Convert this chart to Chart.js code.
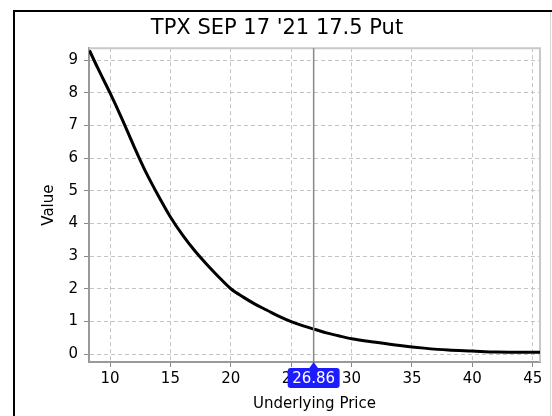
<!DOCTYPE html>
<html>
<head>
<meta charset="utf-8">
<script src="https://cdn.jsdelivr.net/npm/chart.js@4.4.0/dist/chart.umd.min.js"></script>
<style>
  html, body { margin: 0; padding: 0; background: #fff; }
  #wrap { width: 552px; height: 416px; position: relative; }
</style>
</head>
<body>
<div id="wrap"><canvas id="chart" width="552" height="416"></canvas></div>
<script>
// Put value curve
const underlyingPrices = [8.3, 9, 10, 11, 12, 13, 14, 15, 16, 17, 18, 19, 20, 21, 22, 23, 24, 25, 26, 27, 28, 29, 30, 32, 34, 36, 38, 40, 42, 44, 45.6];
const putValues = [9.3, 8.75, 8.0, 7.2, 6.35, 5.55, 4.85, 4.2, 3.65, 3.17, 2.75, 2.36, 2.0, 1.75, 1.53, 1.34, 1.15, 0.99, 0.86, 0.75, 0.64, 0.55, 0.47, 0.36, 0.26, 0.18, 0.12, 0.09, 0.06, 0.05, 0.05];

const chartTitle = "TPX SEP 17 '21 17.5 Put";
const xAxisTitle = 'Underlying Price';
const yAxisTitle = 'Value';
const cursorPrice = 26.86;

const FONT = 'DejaVu Sans';

// Outer frame, plot border and the price cursor with its label
const decorPlugin = {
    id: 'decor',
    beforeDraw(chart) {
        const ctx = chart.ctx;
        ctx.save();
        ctx.fillStyle = '#fff';
        ctx.fillRect(0, 0, chart.width, chart.height);
        ctx.strokeStyle = '#000';
        ctx.lineWidth = 2;
        ctx.beginPath();
        ctx.moveTo(14, chart.height);
        ctx.lineTo(14, 11);
        ctx.lineTo(chart.width, 11);
        ctx.stroke();
        ctx.strokeStyle = '#d8d8d8';
        ctx.lineWidth = 1;
        ctx.beginPath();
        ctx.moveTo(550.5, 12);
        ctx.lineTo(550.5, chart.height);
        ctx.stroke();
        ctx.restore();
    },
    beforeDatasetsDraw(chart) {
        const { ctx, chartArea: a } = chart;
        ctx.save();
        ctx.strokeStyle = '#c8c8c8';
        ctx.lineWidth = 2;
        ctx.beginPath();
        ctx.moveTo(a.left, a.top);
        ctx.lineTo(a.right, a.top);
        ctx.lineTo(a.right, a.bottom);
        ctx.stroke();
        ctx.restore();
    },
    afterDraw(chart) {
        const { ctx, chartArea: a } = chart;
        const x = chart.scales.x.getPixelForValue(cursorPrice);
        ctx.save();
        ctx.strokeStyle = '#888';
        ctx.lineWidth = 1.5;
        ctx.beginPath();
        ctx.moveTo(x, a.top);
        ctx.lineTo(x, a.bottom);
        ctx.stroke();

        const label = cursorPrice.toFixed(2);
        ctx.font = '15px "' + FONT + '"';
        const w = ctx.measureText(label).width + 9;
        const top = a.bottom + 6, h = 20;
        ctx.fillStyle = '#1c1cff';
        ctx.beginPath();
        ctx.moveTo(x, a.bottom);
        ctx.lineTo(x + 5, top + 1);
        ctx.lineTo(x - 5, top + 1);
        ctx.closePath();
        ctx.fill();
        ctx.beginPath();
        ctx.roundRect(x - w / 2, top, w, h, 3);
        ctx.fill();
        ctx.fillStyle = '#fff';
        ctx.textAlign = 'center';
        ctx.textBaseline = 'middle';
        ctx.fillText(label, x, top + h / 2 + 1);
        ctx.restore();
    }
};

const points = underlyingPrices.map((p, i) => ({ x: p, y: putValues[i] }));

new Chart(document.getElementById('chart'), {
    type: 'line',
    data: {
        datasets: [{
            data: points,
            borderColor: '#000',
            borderWidth: 3,
            pointRadius: 0,
            cubicInterpolationMode: 'monotone',
            fill: false
        }]
    },
    options: {
        responsive: false,
        animation: false,
        layout: { padding: { top: 10, left: 14, right: 12, bottom: 0 } },
        plugins: {
            legend: { display: false },
            tooltip: { enabled: false },
            title: {
                display: true,
                text: chartTitle,
                color: '#000',
                font: { family: FONT, size: 21, weight: 'normal', lineHeight: 1.2 },
                padding: { top: 6, bottom: 7 }
            }
        },
        scales: {
            x: {
                type: 'linear',
                min: 8.26,
                max: 45.6,
                afterFit: s => { s.height = 54; },
                ticks: {
                    stepSize: 5,
                    includeBounds: false,
                    color: '#000',
                    padding: 3,
                    font: { family: FONT, size: 15 }
                },
                grid: { color: '#c4c4c4', tickColor: '#888', tickLength: 5, lineWidth: 1 },
                border: { color: '#999', width: 2, dash: [4, 3] },
                title: {
                    display: true,
                    text: xAxisTitle,
                    color: '#000',
                    font: { family: FONT, size: 15 },
                    padding: { top: 0, bottom: 3 }
                }
            },
            y: {
                type: 'linear',
                min: -0.245,
                max: 9.37,
                afterFit: s => { s.width = 75; },
                ticks: {
                    stepSize: 1,
                    includeBounds: false,
                    color: '#000',
                    padding: 6,
                    font: { family: FONT, size: 15 }
                },
                grid: { color: '#c4c4c4', tickColor: '#888', tickLength: 5, lineWidth: 1 },
                border: { color: '#999', width: 2, dash: [4, 3] },
                title: {
                    display: true,
                    text: yAxisTitle,
                    color: '#000',
                    font: { family: FONT, size: 15 },
                    padding: { top: 26, bottom: 0 }
                }
            }
        }
    },
    plugins: [decorPlugin]
});
</script>
</body>
</html>
